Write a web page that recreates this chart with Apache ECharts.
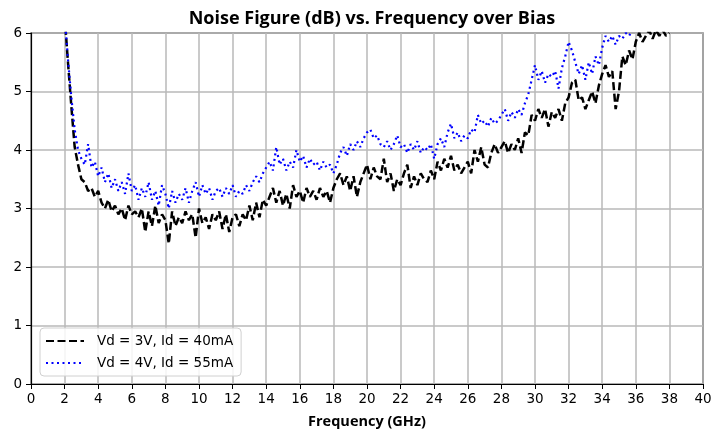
<!DOCTYPE html>
<html>
<head>
<meta charset="utf-8">
<script src="https://cdn.jsdelivr.net/npm/echarts@6/dist/echarts.min.js"></script>
<style>
html,body{margin:0;padding:0;background:#fff;}
#chart{width:713px;height:432px;}
</style>
</head>
<body>
<div id="chart"></div>
<script>
// Frequency sweep (GHz): 2.0 to 38.0 in 0.2 GHz steps
const freqStart = 2.0;
const freqStep = 0.2;
const freqCount = 181;
const freqGHz = Array.from({length: freqCount}, (_, i) => +(freqStart + i * freqStep).toFixed(1));

const seriesNames = ['Vd = 3V, Id = 40mA', 'Vd = 4V, Id = 55mA'];

// Noise figure (dB), Vd = 3V, Id = 40mA
const nf3V = [
  6.3, 5.5, 4.75, 4.05, 3.75, 3.5, 3.45, 3.3, 3.35, 3.2,
  3.3, 3.1, 3.0, 3.15, 2.95, 3.05, 2.9, 3.0, 2.8, 3.05,
  2.9, 2.95, 2.85, 3.0, 2.6, 2.95, 2.7, 3.05, 2.75, 2.9,
  2.8, 2.4, 2.95, 2.7, 2.85, 2.75, 2.95, 2.8, 2.9, 2.5,
  3.0, 2.75, 2.85, 2.65, 2.9, 2.8, 2.95, 2.65, 2.9, 2.6,
  2.85, 2.9, 2.7, 2.9, 2.8, 3.05, 2.8, 3.1, 2.85, 3.15,
  3.05, 3.2, 3.35, 3.1, 3.3, 3.05, 3.25, 3.0, 3.4, 3.2,
  3.3, 3.1, 3.35, 3.2, 3.3, 3.15, 3.35, 3.2, 3.3, 3.1,
  3.35, 3.5, 3.6, 3.4, 3.55, 3.3, 3.55, 3.2, 3.45, 3.6,
  3.75, 3.5, 3.7, 3.55, 3.5, 3.85, 3.45, 3.6, 3.3, 3.5,
  3.4, 3.6, 3.75, 3.35, 3.55, 3.4, 3.6, 3.5, 3.45, 3.65,
  3.5, 3.8, 3.65, 3.85, 3.7, 3.9, 3.65, 3.75, 3.6, 3.7,
  3.8, 3.6, 4.0, 3.8, 4.05, 3.75, 3.7, 3.95, 4.1, 3.95,
  4.05, 4.15, 3.95, 4.1, 4.0, 4.2, 3.95, 4.3, 4.25, 4.6,
  4.5, 4.7, 4.55, 4.7, 4.4, 4.65, 4.55, 4.7, 4.5, 4.8,
  4.9, 5.15, 5.2, 4.85, 4.9, 4.7, 4.85, 5.0, 4.8, 5.1,
  5.3, 5.45, 5.25, 5.35, 4.7, 5.0, 5.6, 5.45, 5.7, 5.55,
  5.85, 6.0, 5.85, 5.95, 6.05, 5.9, 6.05, 5.95, 6.05, 5.95,
  6.0
];

// Noise figure (dB), Vd = 4V, Id = 55mA
const nf4V = [
  6.3, 5.55, 4.9, 4.35, 4.0, 3.85, 3.75, 4.1, 3.7, 3.8,
  3.55, 3.7, 3.45, 3.6, 3.35, 3.5, 3.3, 3.45, 3.25, 3.6,
  3.3, 3.4, 3.15, 3.35, 3.2, 3.45, 3.15, 3.3, 3.05, 3.4,
  3.25, 3.0, 3.3, 3.1, 3.25, 3.15, 3.35, 3.1, 3.3, 3.45,
  3.2, 3.4, 3.25, 3.35, 3.15, 3.3, 3.35, 3.2, 3.35, 3.25,
  3.4, 3.2, 3.3, 3.25, 3.4, 3.3, 3.45, 3.55, 3.45, 3.6,
  3.7, 3.8, 3.65, 4.05, 3.75, 3.85, 3.65, 3.8, 3.7, 4.0,
  3.8, 3.9, 3.7, 3.85, 3.75, 3.8, 3.65, 3.8, 3.7, 3.75,
  3.6, 3.75, 3.95, 4.05, 3.9, 4.1, 4.0, 4.15, 4.05, 4.2,
  4.3, 4.35, 4.2, 4.25, 4.1, 4.05, 4.15, 4.0, 4.1, 4.25,
  4.05, 4.1, 3.95, 4.1, 4.0, 4.15, 3.95, 4.05, 4.0, 4.1,
  3.85, 4.1, 4.2, 4.05, 4.3, 4.45, 4.2, 4.3, 4.15, 4.25,
  4.2, 4.35, 4.3, 4.6, 4.45, 4.5, 4.4, 4.55, 4.45, 4.5,
  4.6, 4.7, 4.5, 4.65, 4.55, 4.7, 4.6, 4.8, 4.95, 5.2,
  5.45, 5.2, 5.35, 5.15, 5.3, 5.25, 5.35, 5.05, 5.4, 5.6,
  5.85, 5.7, 5.5, 5.3, 5.45, 5.2, 5.5, 5.3, 5.6, 5.45,
  5.75, 5.95, 5.85, 5.95, 5.8, 5.95, 5.9, 6.0, 5.95, 6.05,
  6.1, 6.05, 6.2, 6.15, 6.25, 6.2, 6.3, 6.25, 6.35, 6.3,
  6.35
];

const xTicks = {min: 0, max: 40, interval: 2};
const yTicks = {min: 0, max: 6, interval: 1};

const pairs = (vals) => freqGHz.map((f, i) => [f, vals[i]]);

const chart = echarts.init(document.getElementById('chart'), null, {renderer: 'canvas'});
const tickFont = 'DejaVu Sans';
const boldFont = 'Open Sans';

chart.setOption({
  animation: false,
  backgroundColor: '#ffffff',
  title: {
    text: 'Noise Figure (dB) vs. Frequency over Bias',
    left: 367,
    top: 5,
    textAlign: 'center',
    textStyle: {fontFamily: boldFont, fontWeight: 'bold', fontSize: 18, color: '#000'}
  },
  grid: {
    left: 31, right: 10, top: 33, bottom: 48,
    outerBoundsMode: 'none',
    containLabel: false,
    show: true, borderColor: '#000', borderWidth: 1.2, backgroundColor: 'transparent'
  },
  legend: {
    orient: 'vertical',
    left: 40,
    top: 328,
    itemWidth: 38,
    itemHeight: 12,
    itemGap: 8,
    padding: [6, 8, 6, 5],
    backgroundColor: 'rgba(255,255,255,0.85)',
    borderColor: '#d0d0d0',
    borderWidth: 1,
    borderRadius: 4,
    itemStyle: {opacity: 0},
    textStyle: {fontFamily: tickFont, fontSize: 13.5, color: '#000', padding: [0, 0, 0, 8]},
    data: seriesNames
  },
  xAxis: {
    type: 'value',
    min: xTicks.min, max: xTicks.max, interval: xTicks.interval,
    name: 'Frequency (GHz)',
    nameLocation: 'middle',
    nameGap: 30,
    nameTextStyle: {fontFamily: boldFont, fontWeight: 'bold', fontSize: 14.5, color: '#000'},
    axisLine: {show: true, lineStyle: {color: '#000', width: 1.2}},
    axisTick: {show: true, inside: false, length: 5, lineStyle: {color: '#000'}},
    axisLabel: {fontFamily: tickFont, fontSize: 13.5, color: '#000', margin: 8},
    splitLine: {show: true, lineStyle: {color: '#b8b8b8', width: 1.5}}
  },
  yAxis: {
    type: 'value',
    min: yTicks.min, max: yTicks.max, interval: yTicks.interval,
    axisLine: {show: true, lineStyle: {color: '#000', width: 1.2}},
    axisTick: {show: true, inside: false, length: 5, lineStyle: {color: '#000'}},
    axisLabel: {fontFamily: tickFont, fontSize: 13.5, color: '#000', margin: 9},
    splitLine: {show: true, lineStyle: {color: '#b8b8b8', width: 1.5}}
  },
  series: [
    {
      name: seriesNames[0],
      type: 'line',
      data: pairs(nf3V),
      symbol: 'none',
      clip: true,
      lineStyle: {color: '#000000', width: 2.5, type: [8, 3.5]},
      itemStyle: {color: '#000000'},
      z: 3
    },
    {
      name: seriesNames[1],
      type: 'line',
      data: pairs(nf4V),
      symbol: 'none',
      clip: true,
      lineStyle: {color: '#0000ff', width: 2.2, type: [2, 3.5]},
      itemStyle: {color: '#0000ff'},
      z: 4
    }
  ]
});
</script>
</body>
</html>
